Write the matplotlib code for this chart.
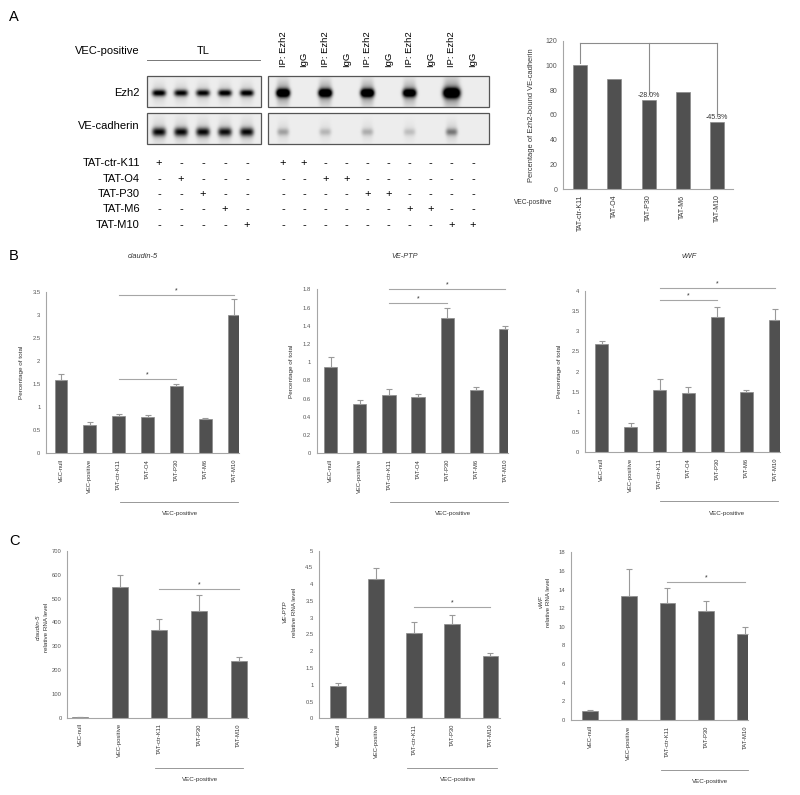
import numpy as np
import matplotlib
matplotlib.use('Agg')
import matplotlib.pyplot as plt
from matplotlib.patches import Rectangle

plt.rcParams['font.family'] = ['Liberation Sans', 'DejaVu Sans']

# ---- data ----
treatments = ['TAT-ctr-K11', 'TAT-O4', 'TAT-P30', 'TAT-M6', 'TAT-M10']
tl_lane_treat = [0, 1, 2, 3, 4]
ip_lane_treat = [0, 0, 1, 1, 2, 2, 3, 3, 4, 4]
ip_headers = ['IP: Ezh2', 'IgG'] * 5

ezh2_tl = [0.85, 0.8, 0.8, 0.85, 0.85]
vecad_tl = [0.8, 0.8, 0.8, 0.78, 0.8]
ezh2_ip = [0.95, 0, 0.92, 0, 0.95, 0, 0.85, 0, 1.0, 0]
ezh2_ip_size = [1, 1, 1, 1, 1, 1, 1, 1, 1.25, 1]
vecad_ip = [0.18, 0, 0.13, 0, 0.15, 0, 0.11, 0, 0.28, 0]

a_vals = [100, 88.8, 72.1, 78.3, 54.6]
a_notes = {2: '-28.0%', 4: '-45.3%'}

b_labels = ['VEC-null', 'VEC-positive', 'TAT-ctr-K11', 'TAT-O4', 'TAT-P30', 'TAT-M6', 'TAT-M10']
cl5_b = [1.59, 0.61, 0.80, 0.78, 1.45, 0.74, 3.01]
cl5_b_err = [0.12, 0.06, 0.05, 0.05, 0.05, 0.03, 0.33]
ptp_b = [0.944, 0.54, 0.64, 0.62, 1.49, 0.70, 1.36]
ptp_b_err = [0.11, 0.04, 0.07, 0.03, 0.11, 0.03, 0.04]
vwf_b = [2.68, 0.635, 1.54, 1.48, 3.36, 1.50, 3.27]
vwf_b_err = [0.08, 0.085, 0.27, 0.13, 0.23, 0.05, 0.27]

c_labels = ['VEC-null', 'VEC-positive', 'TAT-ctr-K11', 'TAT-P30', 'TAT-M10']
cl5_c = [1, 548, 368, 448, 239]
cl5_c_err = [0.5, 51, 46, 66, 14]
ptp_c = [0.97, 4.17, 2.53, 2.80, 1.87]
ptp_c_err = [0.08, 0.30, 0.35, 0.27, 0.07]
vwf_c = [0.93, 13.35, 12.53, 11.74, 9.27]
vwf_c_err = [0.14, 2.9, 1.67, 1.06, 0.68]

W, H = 800, 795
fig = plt.figure(figsize=(8, 7.95), dpi=100)


def px_axes(l, t, r, b):
    return fig.add_axes([l / W, 1 - b / H, (r - l) / W, (b - t) / H])


ov = px_axes(0, 0, W, H)
ov.axis('off')

BAR = '#505050'
EDGE = '#8a8a8a'
AXC = '#a6a6a6'
TXT = '#555555'


def draw_blot(x0, x1, y0, y1, lane_x, inten, yc, bw, bh, smear=0.0, size=None, gain=1.3):
    xs = np.linspace(x0, x1, int((x1 - x0) * 3))
    ys = np.linspace(y0, y1, int((y1 - y0) * 3))
    X, Y = np.meshgrid(xs, ys)
    img = np.full(X.shape, 0.07)
    if size is None:
        size = [1] * len(lane_x)
    for lx, a, s in zip(lane_x, inten, size):
        if a <= 0:
            continue
        w, h = bw * s, bh * s
        img += a * gain * np.exp(-((X - lx) / (w / 2)) ** 4 - ((Y - yc) / (h / 2)) ** 2)
        img += smear * a * np.exp(-((X - lx) / (w / 2.2)) ** 4 - ((Y - yc) / (h * 1.5)) ** 2)
    img = np.clip(img, 0, 1)
    ov.imshow(img, cmap='gray_r', vmin=0, vmax=1, extent=(x0, x1, y1, y0),
              aspect='auto', interpolation='bilinear')
    ov.add_patch(Rectangle((x0, y0), x1 - x0, y1 - y0, fill=False, ec='#555555', lw=0.9))


tl_x = [159 + 22 * i for i in range(5)]
ip_x = [283 + 21.1 * i for i in range(10)]

draw_blot(147, 261, 76, 107, tl_x, ezh2_tl, 93, 14, 6.5, smear=0.15, gain=1.05)
draw_blot(268, 489, 76, 107, ip_x, ezh2_ip, 93, 14, 8, smear=0.35, size=ezh2_ip_size)
draw_blot(147, 261, 113, 144, tl_x, vecad_tl, 132, 14, 8.5, smear=0.15, gain=1.0)
draw_blot(268, 489, 113, 144, ip_x, vecad_ip, 132, 12, 7, smear=0.4)

ov.text(140, 51, 'VEC-positive', ha='right', va='center', fontsize=8)
ov.text(203, 51, 'TL', ha='center', va='center', fontsize=8)
ov.plot([147, 260], [60, 60], color='#777777', lw=0.7)
for x, lab in zip(ip_x, ip_headers):
    ov.text(x, 67, lab, rotation=90, ha='center', va='bottom', fontsize=6.8)
ov.text(140, 93, 'Ezh2', ha='right', va='center', fontsize=8)
ov.text(140, 126, 'VE-cadherin', ha='right', va='center', fontsize=8)

row_y = [163, 179, 194, 209, 225]
for r, name in enumerate(treatments):
    ov.text(140, row_y[r], name, ha='right', va='center', fontsize=8)
    for x, t in zip(tl_x, tl_lane_treat):
        ov.text(x, row_y[r], '+' if t == r else '-', ha='center', va='center', fontsize=8)
    for x, t in zip(ip_x, ip_lane_treat):
        ov.text(x, row_y[r], '+' if t == r else '-', ha='center', va='center', fontsize=8)

for letter, y in [('A', 17), ('B', 256), ('C', 541)]:
    ov.text(14, y, letter, ha='center', va='center', fontsize=10.5)

for title, x in [('claudin-5', 143), ('VE-PTP', 405), ('vWF', 689)]:
    ov.text(x, 256, title, ha='center', va='center', fontsize=5.3, style='italic', color='#333333')

# group underline labels
for x0, x1, yl, xt, yt in [(120, 238, 502, 180, 513), (390, 508, 502, 453, 513),
                           (660, 778, 501, 727, 513), (155, 243, 768, 200, 779),
                           (407, 497, 768, 458, 779), (661, 748, 770, 710, 781)]:
    ov.plot([x0, x1], [yl, yl], color='#888888', lw=0.6)
    ov.text(xt, yt, 'VEC-positive', ha='center', va='center', fontsize=4.5, color='#333333')

ov.text(533, 203, 'VEC-positive', ha='center', va='center', fontsize=4.8, color='#333333')

# C y-labels (two lines)
for gene, xg, xr, yc in [('claudin-5', 38, 47, 627), ('VE-PTP', 285, 294, 612),
                         ('vWF', 541.5, 549, 602)]:
    ov.text(xg, yc, gene, rotation=90, ha='center', va='center', fontsize=4.5,
            style='italic', color='#333333')
    ov.text(xr, yc, 'relative RNA level', rotation=90, ha='center', va='center',
            fontsize=4.5, color='#333333')

ov.set_xlim(0, W)
ov.set_ylim(H, 0)


def bar_chart(rect, labels, vals, errs, ylim, step, xlim, width, fs=4.2, ylabel=None, ylabel_x=None):
    ax = px_axes(*rect)
    ax.patch.set_alpha(0)
    x = np.arange(len(vals))
    ax.bar(x, vals, width=width, color=BAR, edgecolor=EDGE, linewidth=0.5, zorder=2)
    if errs is not None:
        ax.errorbar(x, vals, yerr=[np.zeros(len(errs)), errs], fmt='none',
                    ecolor='#9a9a9a', elinewidth=0.8, capsize=2, capthick=0.8, zorder=3)
    ax.set_xlim(*xlim)
    ax.set_ylim(*ylim)
    ticks = np.arange(0, ylim[1] + step / 2, step)
    ax.set_yticks(ticks)
    ax.set_yticklabels(['{:g}'.format(round(t, 2)) for t in ticks])
    ax.set_xticks(x)
    ax.set_xticklabels(labels, rotation=90)
    ax.tick_params(axis='both', length=0, labelsize=fs, colors=TXT)
    ax.tick_params(axis='x', pad=4, colors='#333333')
    ax.tick_params(axis='y', pad=4)
    for s in ['top', 'right']:
        ax.spines[s].set_visible(False)
    for s in ['left', 'bottom']:
        ax.spines[s].set_color(AXC)
        ax.spines[s].set_linewidth(0.8)
    if ylabel:
        ax.set_ylabel(ylabel, fontsize=fs + 0.4, color='#333333')
        ax.yaxis.set_label_coords((ylabel_x - rect[0]) / (rect[2] - rect[0]), 0.5)
    return ax


def sig(ax, i, j, y, fs=5):
    ax.plot([i, j], [y, y], color='#a6a6a6', lw=0.8, clip_on=False)
    ax.annotate('*', xy=((i + j) / 2, y), xytext=(0, 0.5), textcoords='offset points',
                ha='center', va='bottom', fontsize=fs, color='#333333', annotation_clip=False)


# panel A quantification
axA = bar_chart((563, 40.7, 733, 189), treatments, a_vals, None, (0, 120), 20, (-0.5, 4.47), 0.41,
                fs=5, ylabel='Percentage of Ezh2-bound VE-cadherin', ylabel_x=535)
top = 117.8
axA.plot([0, 4], [top, top], color='#8c8c8c', lw=0.8)
for i, y0 in [(0, 102), (2, 77), (4, 59)]:
    axA.plot([i, i], [y0, top], color='#8c8c8c', lw=0.8)
for i, note in a_notes.items():
    axA.text(i, a_vals[i] + 0.8, note, ha='center', va='bottom', fontsize=5, color='#333333')

# panel B
ax = bar_chart((46, 292, 239, 453.3), b_labels, cl5_b, cl5_b_err, (0, 3.5), 0.5, (-0.52, 6.17), 0.45,
               ylabel='Percentage of total', ylabel_x=24)
sig(ax, 2, 4, 1.62)
sig(ax, 2, 6, 3.43)
ax = bar_chart((316.7, 289.3, 508, 453.3), b_labels, ptp_b, ptp_b_err, (0, 1.8), 0.2, (-0.49, 6.1), 0.45,
               ylabel='Percentage of total', ylabel_x=294)
sig(ax, 2, 4, 1.65)
sig(ax, 2, 6, 1.80)
ax = bar_chart((585, 290.7, 780, 452.3), b_labels, vwf_b, vwf_b_err, (0, 4), 0.5, (-0.58, 6.17), 0.45,
               ylabel='Percentage of total', ylabel_x=562)
sig(ax, 2, 4, 3.77)
sig(ax, 2, 6, 4.06)

# panel C
ax = bar_chart((67.3, 551, 248, 717.7), c_labels, cl5_c, cl5_c_err, (0, 700), 100, (-0.32, 4.23), 0.4)
sig(ax, 2, 4, 540)
ax = bar_chart((319, 550.7, 500, 718.3), c_labels, ptp_c, ptp_c_err, (0, 5), 0.5, (-0.5, 4.26), 0.4)
sig(ax, 2, 4, 3.31)
ax = bar_chart((570.7, 552.3, 748, 720), c_labels, vwf_c, vwf_c_err, (0, 18), 2, (-0.5, 4.08), 0.4)
sig(ax, 2, 4, 14.85)

fig.savefig('out.png', dpi=100)
